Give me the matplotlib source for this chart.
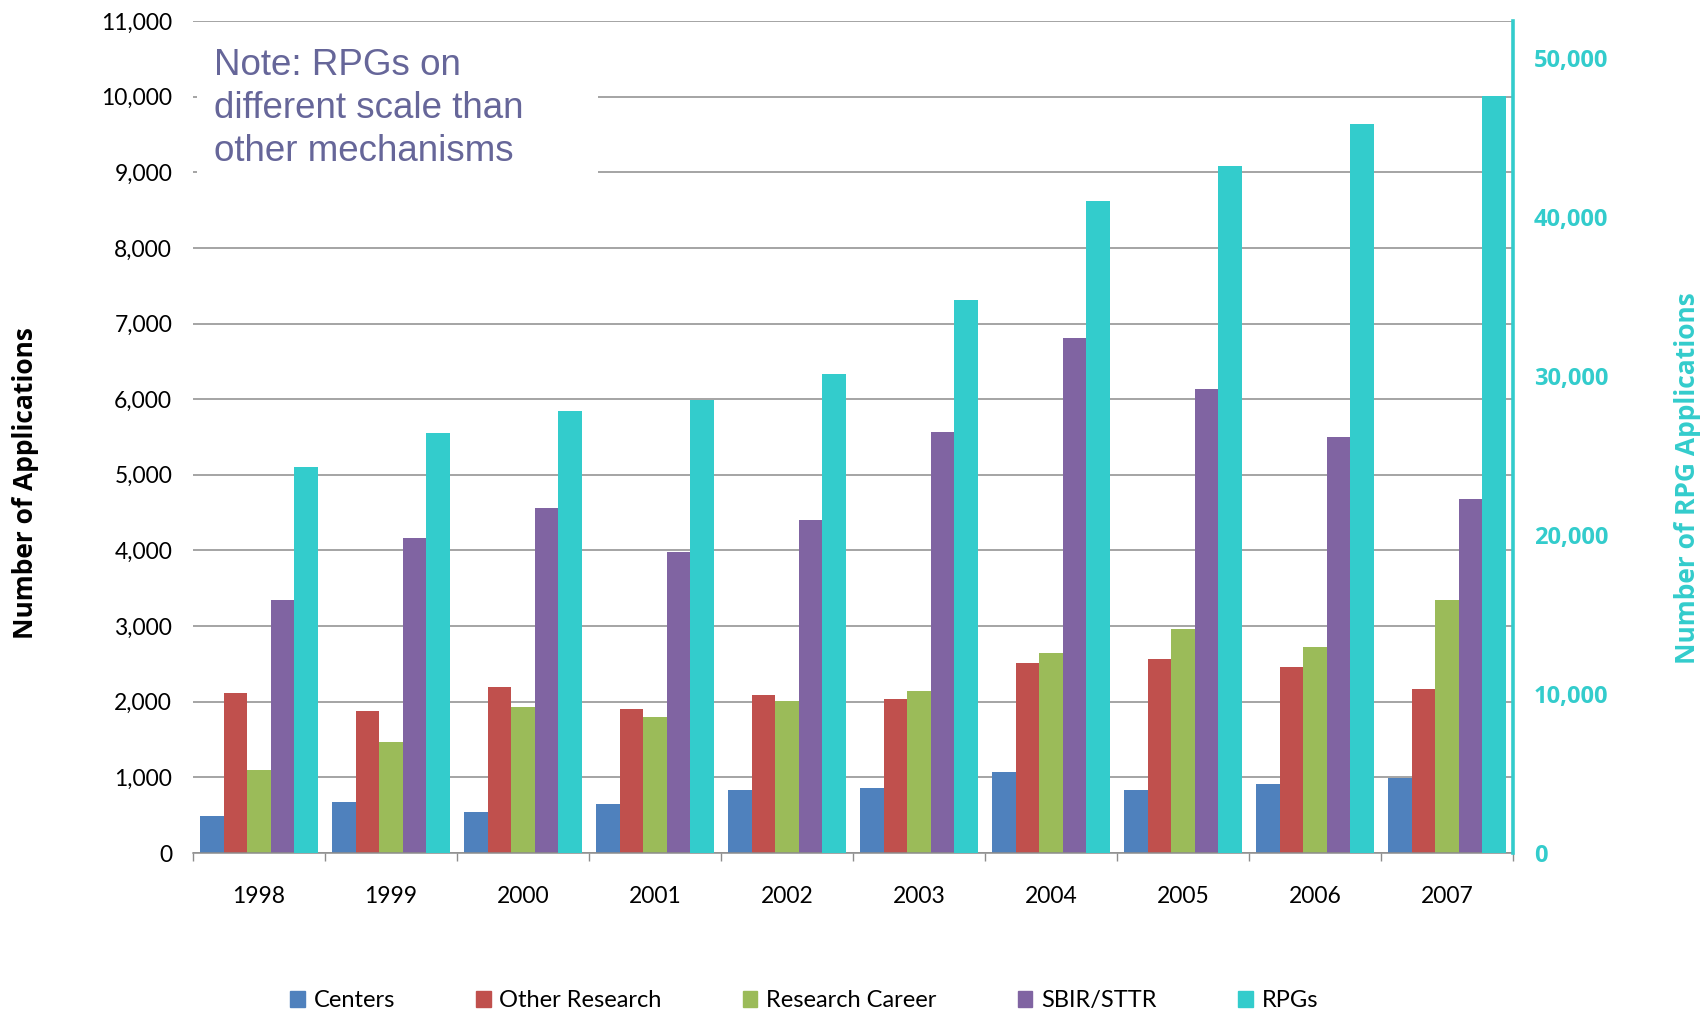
import matplotlib
matplotlib.use("Agg")
import matplotlib.pyplot as plt
import numpy as np
from matplotlib.patches import Rectangle
from matplotlib.ticker import FuncFormatter, FixedLocator

# ── data ──
years = ["1998", "1999", "2000", "2001", "2002", "2003", "2004", "2005", "2006", "2007"]
centers = [490, 670, 540, 645, 830, 855, 1065, 830, 910, 990]
other_research = [2115, 1875, 2195, 1900, 2085, 2035, 2510, 2560, 2460, 2170]
research_career = [1095, 1465, 1925, 1795, 2005, 2140, 2645, 2960, 2725, 3345]
sbir_sttr = [3345, 4165, 4560, 3980, 4400, 5560, 6812, 6138, 5503, 4683]
rpgs = [24280, 26420, 27800, 28490, 30130, 34780, 41010, 43210, 45850, 47590]

series_names = ["Centers", "Other Research", "Research Career", "SBIR/STTR", "RPGs"]
colors = ["#4F81BD", "#C0504D", "#9BBB59", "#8064A2", "#33CCCC"]
teal = "#33CCCC"

TICK_FONT = ["Lato", "DejaVu Sans"]
TITLE_FONT = ["Open Sans", "DejaVu Sans"]

# ── figure ──
fig = plt.figure(figsize=(17.02, 10.14), dpi=100)
ax = fig.add_axes([193 / 1702, 161 / 1014, 1320 / 1702, 832 / 1014])
ax2 = ax.twinx()

x = np.arange(len(years))
w = 1 / 5.63
left_series = [centers, other_research, research_career, sbir_sttr]
for k, vals in enumerate(left_series):
    ax.bar(x + (k - 2) * w, vals, width=w, color=colors[k], label=series_names[k], zorder=2)
ax2.bar(x + 2 * w, rpgs, width=w, color=colors[4], label=series_names[4], zorder=2)

# left axis
ax.set_xlim(-0.5, len(years) - 0.5)
ax.set_ylim(0, 11000)
ax.set_yticks(np.arange(0, 11001, 1000))
ax.yaxis.set_major_formatter(FuncFormatter(lambda v, p: f"{int(v):,}"))
ax.grid(axis="y", color="#8c8c8c", lw=1.1, zorder=0)
ax.set_axisbelow(True)
ax.tick_params(axis="y", length=0, pad=15, labelsize=16.5)
for lab in ax.get_yticklabels():
    lab.set_family(TICK_FONT)

ax.set_xticks(x)
ax.set_xticklabels(years, family=TICK_FONT, fontsize=16.5)
ax.tick_params(axis="x", which="major", length=0, pad=24)
ax.xaxis.set_minor_locator(FixedLocator(np.arange(-0.5, len(years), 1.0)))
ax.tick_params(axis="x", which="minor", length=6, width=1, color="#8c8c8c")

for s in ["left", "top", "right"]:
    ax.spines[s].set_visible(False)
ax.spines["bottom"].set_color("#8c8c8c")
ax.spines["bottom"].set_linewidth(1.1)

ax.set_ylabel("Number of Applications", family=TITLE_FONT, fontsize=19, fontweight="bold")
ax.yaxis.set_label_coords(-0.117, 0.445)

# right axis
ax2.set_ylim(0, 52300)
ax2.set_yticks(np.arange(0, 50001, 10000))
ax2.yaxis.set_major_formatter(FuncFormatter(lambda v, p: f"{int(v):,}"))
ax2.tick_params(axis="y", length=0, pad=15, labelsize=17, labelcolor=teal)
for lab in ax2.get_yticklabels():
    lab.set_family(TITLE_FONT)
    lab.set_fontweight("bold")
for s in ["left", "top", "bottom"]:
    ax2.spines[s].set_visible(False)
ax2.spines["right"].set_color(teal)
ax2.spines["right"].set_linewidth(2.6)
ax2.set_ylabel("Number of RPG Applications", family=TITLE_FONT, fontsize=19,
               fontweight="bold", color=teal, rotation=90)
ax2.yaxis.set_label_coords(1.122, 0.45)

# note box
ax.add_patch(Rectangle((0.003, 0.815), 0.304, 0.172, transform=ax.transAxes,
                       facecolor="white", edgecolor="none", zorder=1))
ax.text(0.016, 0.968, "Note: RPGs on\ndifferent scale than\nother mechanisms",
        transform=ax.transAxes, ha="left", va="top", fontsize=26.5,
        family=["Liberation Sans", "DejaVu Sans"], color="#666699",
        linespacing=1.3, zorder=3)

# legend
handles = [Rectangle((0, 0), 1, 1, color=c) for c in colors]
fig.legend(handles, series_names, loc="center", bbox_to_anchor=(0.4725, 0.013),
           ncol=5, frameon=False, prop={"family": TICK_FONT, "size": 17},
           handlelength=0.6, handleheight=0.72, handletextpad=0.38,
           columnspacing=3.45, borderaxespad=0)

fig.savefig("out.png", dpi=100)
